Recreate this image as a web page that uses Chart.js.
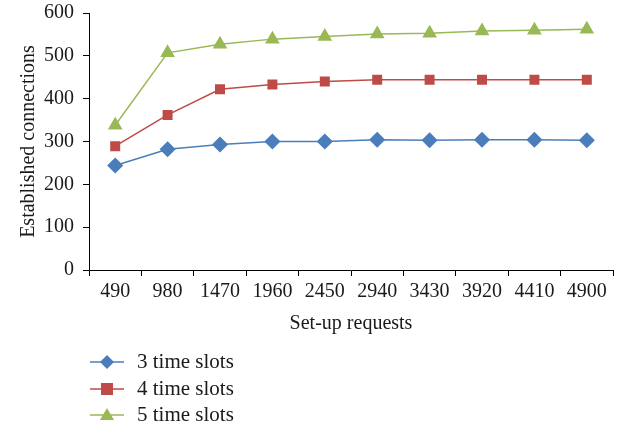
<!DOCTYPE html>
<html>
<head>
<meta charset="utf-8">
<script src="https://cdn.jsdelivr.net/npm/chart.js@4/dist/chart.umd.min.js"></script>
<style>
  html, body { margin: 0; padding: 0; background: #fff; }
  #wrap { width: 622px; height: 435px; }
</style>
</head>
<body>
<div id="wrap"><canvas id="chart" width="622" height="435"></canvas></div>
<script>
// Data
const requests = ['490', '980', '1470', '1960', '2450', '2940', '3430', '3920', '4410', '4900'];
const slots3 = [244, 282, 293, 300, 300, 304, 303, 304, 304, 303];
const slots4 = [289, 362, 422, 433, 440, 444, 444, 444, 444, 444];
const slots5 = [338, 507, 527, 539, 545, 551, 553, 558, 560, 562];
const seriesNames = ['3 time slots', '4 time slots', '5 time slots'];

const FONT = '"Liberation Serif", "DejaVu Serif", serif';
const colors = ['#4a7ebb', '#be4b48', '#98b954'];
const shapes = ['rectRot', 'rect', 'triangle'];

// Legend stacked under the plot, drawn by hand
const stackedLegend = {
  id: 'stackedLegend',
  afterDraw(chart) {
    const ctx = chart.ctx;
    const x0 = 90, rowY = [362, 389, 415];
    ctx.save();
    ctx.font = '21px ' + FONT;
    ctx.textBaseline = 'middle';
    chart.data.datasets.forEach((ds, i) => {
      const y = rowY[i];
      ctx.strokeStyle = ds.borderColor;
      ctx.lineWidth = 1.5;
      ctx.beginPath();
      ctx.moveTo(x0, y);
      ctx.lineTo(x0 + 34, y);
      ctx.stroke();
      ctx.fillStyle = ds.backgroundColor;
      const cx = x0 + 17;
      ctx.beginPath();
      if (ds.pointStyle === 'rectRot') {
        ctx.moveTo(cx, y - 7); ctx.lineTo(cx + 7, y); ctx.lineTo(cx, y + 7); ctx.lineTo(cx - 7, y);
      } else if (ds.pointStyle === 'rect') {
        ctx.rect(cx - 6, y - 6, 12, 12);
      } else {
        ctx.moveTo(cx, y - 7); ctx.lineTo(cx + 7, y + 5); ctx.lineTo(cx - 7, y + 5);
      }
      ctx.closePath();
      ctx.fill();
      ctx.fillStyle = '#1a1a1a';
      ctx.fillText(ds.label, 137, y);
    });
    ctx.restore();
  }
};

const datasets = [slots3, slots4, slots5].map((vals, i) => ({
  label: seriesNames[i],
  data: vals,
  borderColor: colors[i],
  backgroundColor: colors[i],
  pointStyle: shapes[i],
  pointRadius: i === 1 ? 6 : 7,
  pointHoverRadius: 7,
  borderWidth: 1.5,
  tension: 0
}));

new Chart(document.getElementById('chart'), {
  type: 'line',
  data: { labels: requests, datasets },
  options: {
    responsive: false,
    animation: false,
    devicePixelRatio: 1,
    layout: { padding: { top: 0, right: 9, bottom: 95, left: 19 } },
    plugins: { legend: { display: false }, tooltip: { enabled: false } },
    scales: {
      x: {
        offset: true,
        grid: { offset: true, drawOnChartArea: false, drawTicks: true, tickLength: 6, color: '#000' },
        border: { color: '#000', width: 1 },
        ticks: { color: '#1a1a1a', font: { family: FONT, size: 20 }, padding: 4, maxRotation: 0, autoSkip: false },
        title: { display: true, text: 'Set-up requests', color: '#1a1a1a', font: { family: FONT, size: 20 }, padding: { top: 4 } }
      },
      y: {
        min: 0,
        max: 600,
        // small lineHeight keeps the top label from pushing the plot down
        ticks: { stepSize: 100, color: '#1a1a1a', font: { family: FONT, size: 20, lineHeight: 0.4 }, padding: 9 },
        grid: { drawOnChartArea: false, drawTicks: true, tickLength: 6, color: '#000' },
        border: { color: '#000', width: 1 },
        title: { display: true, text: 'Established connections', color: '#1a1a1a', font: { family: FONT, size: 20, lineHeight: 1 }, padding: { top: 0, bottom: -4 } }
      }
    }
  },
  plugins: [stackedLegend]
});
</script>
</body>
</html>
